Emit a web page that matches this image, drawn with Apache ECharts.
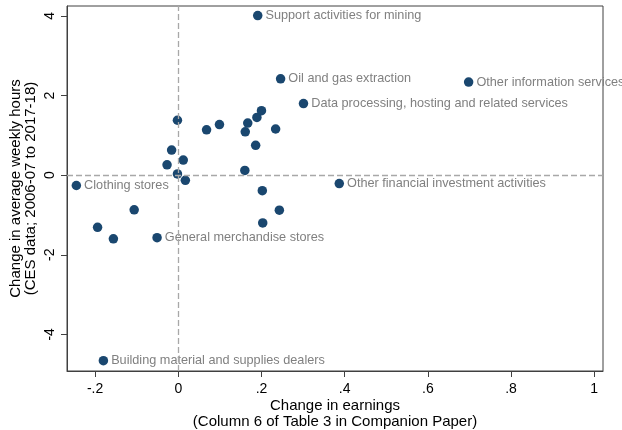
<!DOCTYPE html>
<html>
<head>
<meta charset="utf-8">
<script src="https://cdn.jsdelivr.net/npm/echarts@6/dist/echarts.min.js"></script>
<style>
  html, body { margin: 0; padding: 0; background: #fff; }
  #chart { width: 622px; height: 430px; }
</style>
</head>
<body>
<div id="chart"></div>
<script>
// Industry points: change in earnings (x) vs change in average weekly hours (y)
const industries = [
  'Support activities for mining', 'Oil and gas extraction',
  'Data processing, hosting and related services', 'Other information services',
  'Other financial investment activities', 'Clothing stores',
  'General merchandise stores', 'Building material and supplies dealers',
  '', '', '', '', '', '', '', '', '', '', '', '', '', '', '', '', '', '', '', ''
];
const earnings = [
  0.191, 0.246, 0.301, 0.698, 0.387, -0.245, -0.051, -0.180,
  -0.002, 0.068, 0.099, 0.167, 0.161, 0.189, 0.200, 0.234, 0.186,
  -0.016, 0.012, -0.027, -0.002, 0.017, 0.160, 0.202,
  -0.106, -0.194, -0.156, 0.243, 0.203
];
const hours = [
  4.01, 2.42, 1.80, 2.34, -0.21, -0.26, -1.57, -4.66,
  1.38, 1.14, 1.27, 1.31, 1.09, 1.45, 1.62, 1.16, 0.75,
  0.63, 0.38, 0.26, 0.03, -0.13, 0.12, -0.39,
  -0.87, -1.31, -1.60, -0.88, -1.20
];
const xTicks = [-0.2, 0, 0.2, 0.4, 0.6, 0.8, 1];
const yTicks = [-4, -2, 0, 2, 4];

const FONT = '"Liberation Sans", Arial, Helvetica, sans-serif';
const FRAME = '#404040';
const stataNum = v => (v === 0 ? '0' : String(v).replace('0.', '.'));

const points = earnings.map((x, i) => ({
  value: [x, hours[i]],
  name: industries[i] || '',
  label: { show: !!industries[i] }
}));

const chart = echarts.init(document.getElementById('chart'), null, { renderer: 'canvas' });
chart.setOption({
  animation: false,
  backgroundColor: '#ffffff',
  textStyle: { fontFamily: FONT },
  grid: {
    left: 67, right: 19, top: 6, bottom: 59,
    outerBoundsMode: 'none', containLabel: false,
    show: true, borderColor: FRAME, borderWidth: 1, backgroundColor: 'transparent'
  },
  xAxis: {
    type: 'value',
    min: -0.2675, max: 1.021,
    splitLine: { show: false },
    axisLine: { show: true, onZero: false, lineStyle: { color: FRAME, width: 1 } },
    axisTick: { show: true, inside: false, customValues: xTicks, length: 6, lineStyle: { color: FRAME } },
    axisLabel: {
      customValues: xTicks, formatter: stataNum,
      color: '#000', fontSize: 14, margin: 11, fontFamily: FONT
    },
    name: 'Change in earnings\n(Column 6 of Table 3 in Companion Paper)',
    nameLocation: 'middle', nameGap: 43, nameMoveOverlap: false,
    nameTextStyle: { color: '#000', fontSize: 15, lineHeight: 16, fontFamily: FONT, verticalAlign: 'middle' }
  },
  yAxis: {
    type: 'value',
    min: -4.92, max: 4.25,
    splitLine: { show: false },
    axisLine: { show: true, onZero: false, lineStyle: { color: FRAME, width: 1 } },
    axisTick: { show: true, inside: false, customValues: yTicks, length: 6, lineStyle: { color: FRAME } },
    axisLabel: {
      customValues: yTicks, formatter: stataNum, rotate: 90,
      color: '#000', fontSize: 14, margin: 10, fontFamily: FONT
    },
    name: 'Change in average weekly hours\n(CES data; 2006-07 to 2017-18)',
    nameLocation: 'middle', nameGap: 44, nameRotate: 90, nameMoveOverlap: false,
    nameTextStyle: { color: '#000', fontSize: 15, lineHeight: 15, fontFamily: FONT, verticalAlign: 'middle' }
  },
  series: [{
    type: 'scatter',
    symbol: 'circle',
    symbolSize: 9.5,
    itemStyle: { color: '#1a476f', opacity: 1 },
    data: points,
    label: {
      position: 'right', distance: 3,
      formatter: p => p.name,
      color: '#808080', fontSize: 12.7, fontFamily: FONT
    },
    markLine: {
      silent: true,
      symbol: ['none', 'none'],
      label: { show: false },
      lineStyle: { color: '#a8a8a8', type: [6, 3], width: 1.3 },
      data: [{ xAxis: 0 }, { yAxis: 0 }]
    },
    z: 3
  }]
});
</script>
</body>
</html>
